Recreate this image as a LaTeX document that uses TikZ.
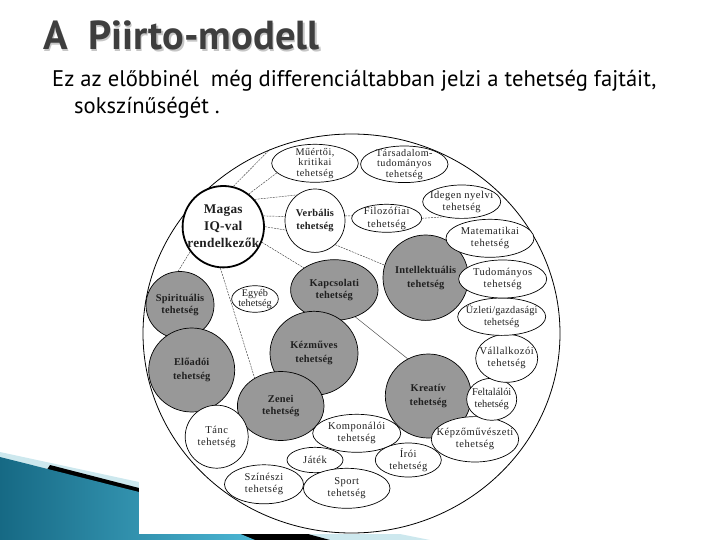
\documentclass[tikz,border=0pt]{standalone}
\usepackage{fontspec}
\setmainfont{Liberation Serif}
\newfontfamily\ptsans{PT Sans}
\newfontfamily\lblfont{Liberation Serif}[LetterSpace=5]
\newfontfamily\blblfont{Liberation Serif}[LetterSpace=2]
\usetikzlibrary{shapes.geometric}
\definecolor{bubgray}{RGB}{152,152,152}
\definecolor{titlegray}{RGB}{62,62,62}
\definecolor{tealdark}{RGB}{22,105,132}
\definecolor{teallight}{RGB}{75,182,212}
\definecolor{palecyan}{RGB}{205,232,238}
\tikzset{
  wl/.style={draw=black, line width=0.7pt, fill=white, ellipse, inner sep=0pt},
  gl/.style={wl, fill=bubgray},
  lbl/.style={align=center, inner sep=0pt, text=black!88, font=\lblfont\fontsize{10.5}{12.3}\selectfont},
  mlbl/.style={lbl, font=\blblfont\fontsize{10.3}{12.3}\selectfont},
  tlbl/.style={lbl, font=\rmfamily\fontsize{10.4}{12.3}\selectfont},
  blbl/.style={lbl, font=\blblfont\bfseries\fontsize{10.4}{12.5}\selectfont},
  bigblbl/.style={lbl, font=\blblfont\bfseries\fontsize{10.4}{14}\selectfont},
  smlbl/.style={lbl, font=\lblfont\fontsize{10.2}{10.6}\selectfont},
  tinylbl/.style={lbl, font=\rmfamily\fontsize{10.2}{10}\selectfont},
  conn/.style={draw=black!75, line width=0.45pt, dash pattern=on 2pt off 1pt},
}
\newcommand\bub[8]{%
  \node[#1, minimum width={2*#5 pt}, minimum height={2*#6 pt}] (#2) at (#3,#4) {};
  \node[#7] at (#2.center) {#8};}
\begin{document}
\begin{tikzpicture}[x=1pt,y=-1pt]
\useasboundingbox (0,0) rectangle (720,540);
% bottom-left banner
\fill[palecyan] (0,452) -- (139,482) -- (430,540) -- (0,540) -- cycle;
\fill[black] (50,465) -- (139,488) -- (330,540) -- (0,540) -- cycle;
\shade[left color=tealdark, right color=teallight] (0,457) -- (139,492) -- (255,540) -- (0,540) -- cycle;
% picture background
\fill[white] (139,128) rectangle (575,534);
% title and text
\node[anchor=base west, inner sep=0pt, text=gray!45, font=\ptsans\bfseries\fontsize{40.5}{42}\selectfont] at (44.5,51.5) {A\ \ Piirto-modell};
\node[anchor=base west, inner sep=0pt, text=titlegray, font=\ptsans\bfseries\fontsize{40.5}{42}\selectfont] (title) at (43,50) {A\ \ Piirto-modell};
\node[anchor=base west, inner sep=0pt, font=\ptsans\fontsize{22.6}{26}\selectfont] (sub1) at (52,87) {Ez az előbbinél\ \ még differenciáltabban jelzi a tehetség fajtáit,};
\node[anchor=base west, inner sep=0pt, font=\ptsans\fontsize{22.6}{26}\selectfont] (sub2) at (74,114) {sokszínűségét .};
% outer circle
\node[draw=black, line width=0.8pt, ellipse, inner sep=0pt, minimum width=417pt, minimum height=399pt] (outer) at (351.5,333.5) {};
% gray bubbles
\bub{gl}{spir}{180}{305}{34}{33.5}{blbl}{Spirituális\\tehetség}
\bub{gl}{elo}{191.7}{370}{43}{42}{bigblbl}{Előadói\\tehetség}
\bub{gl}{kap}{334.3}{290}{43.7}{30.3}{blbl}{Kapcsolati\\tehetség}
\bub{gl}{kez}{314}{353.3}{44}{42}{bigblbl}{Kézműves\\tehetség}
\bub{gl}{zen}{280.7}{406}{43.3}{34.5}{blbl}{Zenei\\tehetség}
\bub{gl}{int}{425.7}{277.7}{42.7}{42.7}{bigblbl}{Intellektuális\\tehetség}
\bub{gl}{kre}{428.3}{396}{43}{42}{bigblbl}{Kreatív\\tehetség}
% white bubbles
\bub{wl}{tanc}{216.7}{436.7}{31.5}{31.5}{lbl}{Tánc\\tehetség}
\bub{wl}{komp}{356.7}{433.3}{44}{19}{lbl}{Komponálói\\tehetség}
\bub{wl}{jat}{315}{460}{28}{12.7}{lbl}{Játék}
\bub{wl}{szin}{264}{484.3}{39.5}{19.5}{lbl}{Színészi\\tehetség}
\bub{wl}{sport}{346.7}{488.3}{43.3}{20}{lbl}{Sport\\tehetség}
\bub{wl}{iroi}{408.3}{460}{33}{17}{lbl}{Írói\\tehetség}
\bub{wl}{kepz}{475}{439.3}{43.7}{22.7}{lbl}{Képzőművészeti\\tehetség}
\bub{wl}{felt}{491.7}{399.3}{25}{21}{tlbl}{Feltalálói\\tehetség}
\bub{wl}{vall}{506.7}{358.3}{31}{24}{lbl}{Vállalkozói\\tehetség}
\bub{wl}{uzl}{501.7}{316.7}{44}{18.7}{mlbl}{Üzleti/gazdasági\\tehetség}
\bub{wl}{tud}{502.7}{279}{44}{19}{lbl}{Tudományos\\tehetség}
\bub{wl}{mat}{490}{238.3}{44}{19}{lbl}{Matematikai\\tehetség}
\bub{wl}{ide}{461.7}{201.7}{39}{16.7}{lbl}{Idegen nyelvi\\tehetség}
\bub{wl}{filo}{386.7}{218.3}{35}{14}{lbl}{Filozófiai\\tehetség}
\bub{wl}{verb}{315}{220.7}{30}{31.7}{blbl}{Verbális\\tehetség}
\bub{wl}{mue}{315}{163.3}{43.3}{19}{smlbl}{Műértői,\\kritikai\\tehetség}
\bub{wl}{tars}{404.3}{164.3}{43.7}{18.3}{smlbl}{Társadalom-\\tudományos\\tehetség}
\bub{wl}{egy}{255}{299}{23.3}{13.3}{tinylbl}{Egyéb\\tehetség}
\node[wl, line width=1.8pt, minimum width=81.4pt, minimum height=81.4pt] (mag) at (223.3,226.7) {};
\node[lbl, font=\blblfont\bfseries\fontsize{13.3}{17}\selectfont] at (mag.center) {Magas\\IQ-val\\rendelkezők};
% connectors
\draw[conn] (mag.76) -- (outer.114);
\draw[conn] (mag.52) -- (mue.194);
\draw[conn] (mag.41) -- (verb.125);
\draw[conn] (mag.15) -- (verb.172);
\draw[conn] (mag.0) -- (verb.198);
\draw[conn] (mag.-22) -- (kap.144);
\draw[conn] (mag.217) -- (spir.93);
\draw[conn] (mag.266) -- (zen.133);
\draw[conn] (verb.9) -- (filo.176);
\draw[conn] (filo.0) -- (ide.220);
\draw[conn] (verb.310) -- (int.163);
\draw[draw=black!75, line width=0.45pt] (kap.-52) -- (kre.119);
\end{tikzpicture}
\end{document}
